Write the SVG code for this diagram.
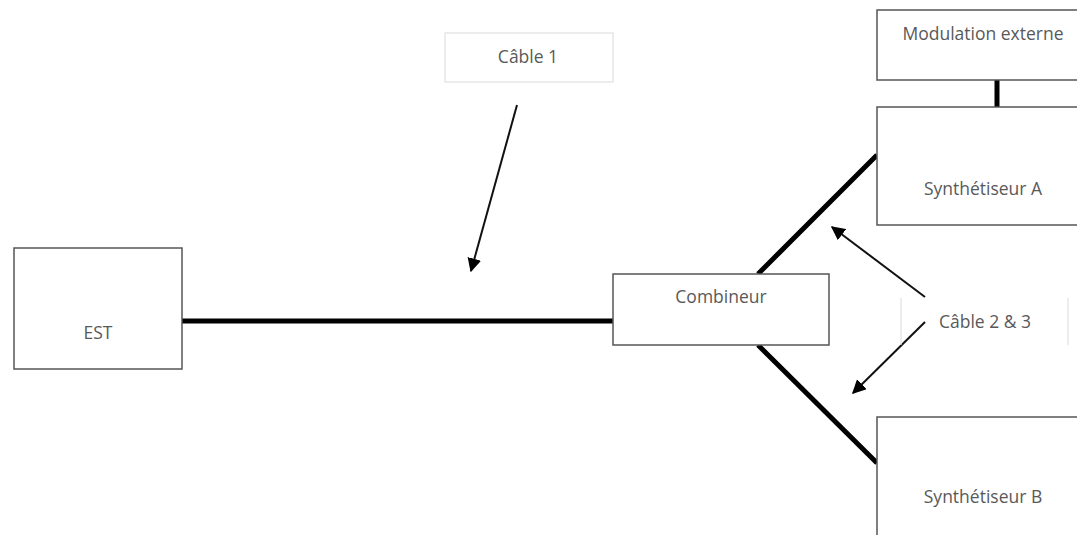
<svg xmlns="http://www.w3.org/2000/svg" width="1077" height="535" viewBox="0 0 1077 535">
<defs>
<style>
.box{fill:#fff;stroke:#555;stroke-width:1.5}
.lbl{font-family:"Open Sans","Liberation Sans",sans-serif;font-size:17.5px;fill:#595959;text-anchor:middle}
.thick{stroke:#000;stroke-width:5;fill:none}
.arr{stroke:#111;stroke-width:2;fill:none;marker-end:url(#ah)}
.faint{fill:#fff;stroke:#e0e0e0;stroke-width:1.2}
</style>
<marker id="ah" viewBox="0 0 10 10" refX="9" refY="5" markerWidth="7" markerHeight="7" orient="auto" markerUnits="strokeWidth">
<path d="M0,0 L10,5 L0,10 z" fill="#000"/>
</marker>
</defs>
<rect width="1077" height="535" fill="#fff"/>
<g id="connectors">
<line class="thick" x1="182" y1="321" x2="613" y2="321"/>
<line class="thick" x1="758" y1="274" x2="877" y2="155"/>
<line class="thick" x1="758" y1="345" x2="877" y2="463"/>
<line class="thick" x1="997" y1="80" x2="997" y2="107"/>
<line class="arr" x1="517" y1="105" x2="471" y2="271"/>
<line class="arr" x1="925" y1="297" x2="832" y2="227"/>
<line class="arr" x1="925" y1="322" x2="853" y2="393"/>
</g>
<g id="cable1">
<rect class="faint" x="445" y="33" width="168" height="49"/>
<text class="lbl" x="528" y="63">Câble 1</text>
</g>
<g id="cable23">
<line x1="901" y1="298" x2="901" y2="345" stroke="#e0e0e0" stroke-width="1.2"/>
<line x1="1068" y1="298" x2="1068" y2="345" stroke="#e0e0e0" stroke-width="1.2"/>
<text class="lbl" x="985" y="328">Câble 2 &amp; 3</text>
</g>
<g id="est">
<rect class="box" x="14" y="248" width="168" height="121"/>
<text class="lbl" x="98" y="339">EST</text>
</g>
<g id="combineur">
<rect class="box" x="613" y="274" width="216" height="71"/>
<text class="lbl" x="721" y="303">Combineur</text>
</g>
<g id="modulation">
<rect class="box" x="877" y="10" width="210" height="70"/>
<text class="lbl" x="983" y="40">Modulation externe</text>
</g>
<g id="synthA">
<rect class="box" x="877" y="107" width="210" height="118"/>
<text class="lbl" x="983" y="195">Synthétiseur A</text>
</g>
<g id="synthB">
<rect class="box" x="877" y="417" width="210" height="130"/>
<text class="lbl" x="983" y="503">Synthétiseur B</text>
</g>
</svg>
